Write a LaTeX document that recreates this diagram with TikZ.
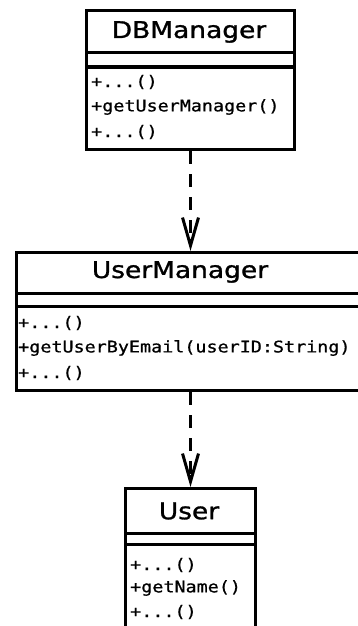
\documentclass[tikz,border=0pt]{standalone}
\usepackage{fontspec}
\usetikzlibrary{arrows.meta}
\newfontfamily\classfont{DejaVu Sans}[FakeStretch=1.15,FakeBold=1.2]
\newfontfamily\opfont{DejaVu Sans Mono}[FakeStretch=1.15,FakeBold=0.8]
\tikzset{
  classbox/.style={draw=black, line width=3pt, inner sep=0pt, anchor=north west, fill=white},
  divider/.style={draw=black, line width=3pt},
  classname/.style={inner sep=0pt, font=\classfont\fontsize{23}{27}\selectfont},
  member/.style={inner sep=0pt, anchor=west, font=\opfont\fontsize{16}{19}\selectfont},
  dep/.style={line width=3pt, dash pattern=on 13pt off 10pt,
    -{Straight Barb[length=28pt,width=16pt]}},
}
\begin{document}
\begin{tikzpicture}[x=1pt,y=-1pt]
\useasboundingbox (0,0) rectangle (358,626);
\fill[white] (0,0) rectangle (358,626);
\clip (0,0) rectangle (358,626);

% DBManager class
\node[classbox, minimum width=208pt, minimum height=139pt] (db) at (85,9) {};
\draw[divider] (db.north west) ++(0,44) -- ++(208,0);
\draw[divider] (db.north west) ++(0,58) -- ++(208,0);
\node[classname] (dbname) at (189,32) {DBManager};
\node[member] (dbop1) at (91,82) {+...()};
\node[member] (dbop2) at (91,107) {+getUserManager()};
\node[member] (dbop3) at (91,132) {+...()};

% UserManager class (runs past the right edge)
\node[classbox, minimum width=348pt, minimum height=138pt] (um) at (15,251) {};
\draw[divider] (um.north west) ++(0,42) -- ++(348,0);
\draw[divider] (um.north west) ++(0,55) -- ++(348,0);
\node[classname] (umname) at (180,272) {UserManager};
\node[member] (umop1) at (18,323) {+...()};
\node[member] (umop2) at (18,348) {+getUserByEmail(userID:String)};
\node[member] (umop3) at (18,373) {+...()};

% User class (runs past the bottom edge)
\node[classbox, minimum width=130pt, minimum height=153pt] (user) at (124,487) {};
\draw[divider] (user.north west) ++(0,46) -- ++(130,0);
\draw[divider] (user.north west) ++(0,57) -- ++(130,0);
\node[classname] (username) at (189,511) {User};
\node[member] (userop1) at (130,565) {+...()};
\node[member] (userop2) at (130,588) {+getName()};
\node[member] (userop3) at (130,612) {+...()};

% dependencies
\draw[dep] (db.south) -- (um.north);
\draw[dep] (um.south -| db.south) -- (user.north);
\end{tikzpicture}
\end{document}
